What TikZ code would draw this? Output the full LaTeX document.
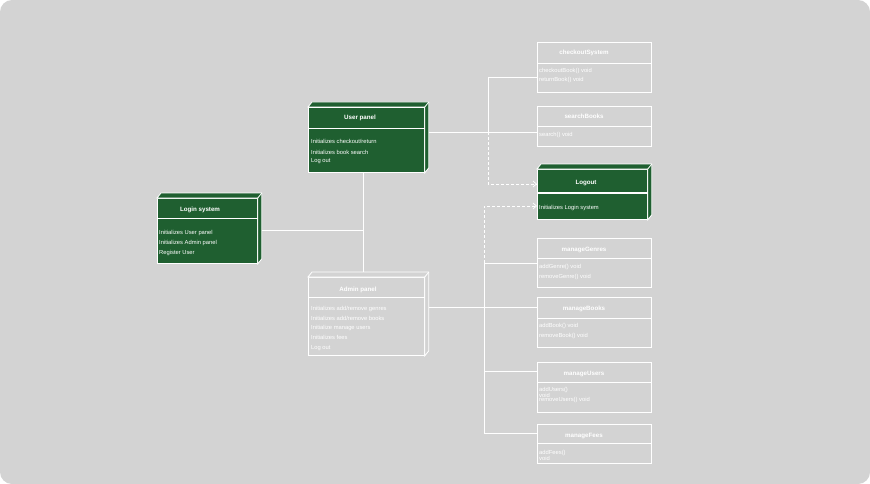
\documentclass[tikz,border=0pt]{standalone}
\usepackage{fontspec}
\setmainfont{Liberation Sans}
\usetikzlibrary{arrows.meta}
\definecolor{bg}{HTML}{D3D3D3}
\definecolor{dg}{HTML}{1F5F30}
\newcommand\deepfaces[2]{%
  \path (#1.north west) ++(4,-5) coordinate (#1-a);
  \path (#1.north east) ++(4,-5) coordinate (#1-b);
  \path (#1.south east) ++(4,-5) coordinate (#1-c);
  \draw[wl, fill=#2] (#1.north west) -- (#1-a) -- (#1-b) -- (#1-c) -- (#1.south east) -- (#1.north east) -- cycle;
  \draw[wl] (#1.north east) -- (#1-b);
}
\begin{document}
\begin{tikzpicture}[x=1pt,y=-1pt,
  every node/.style={text=white, inner sep=0pt, font=\fontsize{5.8}{7}\selectfont},
  wl/.style={draw=white, line width=0.8pt},
  ttl/.style={anchor=base, font=\bfseries\fontsize{6.2}{7}\selectfont},
  txt/.style={anchor=base west},
  front/.style={wl, anchor=north west, minimum width=#1, minimum height=10pt},
  cls/.style={wl, fill=bg, anchor=north west, minimum width=114pt},
  conn/.style={draw=white, line width=0.7pt},
  dconn/.style={conn, dash pattern=on 3pt off 2pt},
  arr/.style={-{Straight Barb[length=3.5pt,width=6pt,line width=0.7pt]}}
]
\useasboundingbox (0,0) rectangle (870,484);
\fill[white] (0,0) rectangle (870,484);
\fill[bg, rounded corners=12pt] (0,0) rectangle (870,484);

% ---------- 3D nodes ----------
\node[front=100pt, fill=dg, minimum height=65pt] (login) at (157,198) {};
\deepfaces{login}{dg}
\draw[wl] (login.west |- 0,218) -- (login.east |- 0,218);
\node[ttl] at (200,211) {Login system};
\node[txt] at (159,234) {Initializes User panel};
\node[txt] at (159,244) {Initializes Admin panel};
\node[txt] at (159,254) {Register User};

\node[front=116pt, fill=dg, minimum height=65pt] (user) at (308,107) {};
\deepfaces{user}{dg}
\draw[wl] (user.west |- 0,128) -- (user.east |- 0,128);
\node[ttl] at (360,120) {User panel};
\node[txt] at (311,144) {Initializes checkout/return};
\node[txt] at (311,154) {Initializes book search};
\node[txt] at (311,163) {Log out};

\node[front=116pt, fill=bg, minimum height=78pt] (admin) at (308,277) {};
\deepfaces{admin}{bg}
\draw[wl] (admin.west |- 0,297) -- (admin.east |- 0,297);
\node[ttl] at (358,291) {Admin panel};
\node[txt] at (311,310) {Initializes add/remove genres};
\node[txt] at (311,320) {Initializes add/remove books};
\node[txt] at (311,329) {Initialize manage users};
\node[txt] at (311,339) {Initializes fees};
\node[txt] at (311,349) {Log out};

\node[front=110pt, fill=dg, minimum height=50pt] (logout) at (537,169) {};
\deepfaces{logout}{dg}
\draw[wl, line width=1.3pt] (logout.west |- 0,193) -- (logout.east |- 0,193);
\node[ttl] at (586,184) {Logout};
\node[txt] at (539,209) {Initializes Login system};

% ---------- class boxes ----------
\node[cls, minimum height=50pt] (checkout) at (537,42) {};
\draw[wl] (checkout.west |- 0,63) -- (checkout.east |- 0,63);
\node[ttl] at (584,55) {checkoutSystem};
\node[txt] at (539,73) {checkoutBook() void};
\node[txt] at (539,82) {returnBook() void};

\node[cls, minimum height=40pt] (search) at (537,106) {};
\draw[wl] (search.west |- 0,126) -- (search.east |- 0,126);
\node[ttl] at (584,119) {searchBooks};
\node[txt] at (539,136) {search() void};

\node[cls, minimum height=49pt] (genres) at (537,238) {};
\draw[wl] (genres.west |- 0,258) -- (genres.east |- 0,258);
\node[ttl] at (584,251) {manageGenres};
\node[txt] at (539,268) {addGenre() void};
\node[txt] at (539,278) {removeGenre() void};

\node[cls, minimum height=50pt] (books) at (537,297) {};
\draw[wl] (books.west |- 0,318) -- (books.east |- 0,318);
\node[ttl] at (584,310) {manageBooks};
\node[txt] at (539,327) {addBook() void};
\node[txt] at (539,337) {removeBook() void};

\node[cls, minimum height=50pt] (users) at (537,362) {};
\draw[wl] (users.west |- 0,382) -- (users.east |- 0,382);
\node[ttl] at (584,375) {manageUsers};
\node[txt] at (539,391) {addUsers()};
\node[txt] at (539,397) {void};
\node[txt] at (539,401) {removeUsers() void};

\node[cls, minimum height=39pt] (fees) at (537,424) {};
\draw[wl] (fees.west |- 0,443) -- (fees.east |- 0,443);
\node[ttl] at (584,437) {manageFees};
\node[txt] at (539,454) {addFees()};
\node[txt] at (539,460) {void};

% ---------- connectors ----------
\coordinate (j1) at (363,230);
\draw[conn] (login-c |- j1) -- (j1);
\draw[conn] (user.south -| j1) -- (admin-a -| j1);

\coordinate (sbin) at (537,132);
\coordinate (ju) at (488,132);
\coordinate (jc) at (488,77);
\coordinate (lo1) at (488,184);
\draw[conn] (user-c |- sbin) -- (search.west |- sbin);
\draw[conn] (checkout.west |- jc) -- (jc) -- (ju);
\draw[dconn, arr] (ju) -- (lo1) -- (logout.west |- lo1);

\coordinate (lo2) at (484,206);
\coordinate (jg) at (484,263);
\coordinate (jus) at (484,371);
\coordinate (jf) at (484,433);
\draw[dconn, arr] (jg) -- (lo2) -- (logout.west |- lo2);
\draw[conn] (jg) -- (genres.west |- jg);
\draw[conn] (admin-c |- 0,307) -- (books.west |- 0,307);
\draw[conn] (jg) -- (jf) -- (fees.west |- jf);
\draw[conn] (jus) -- (users.west |- jus);
\end{tikzpicture}
\end{document}
